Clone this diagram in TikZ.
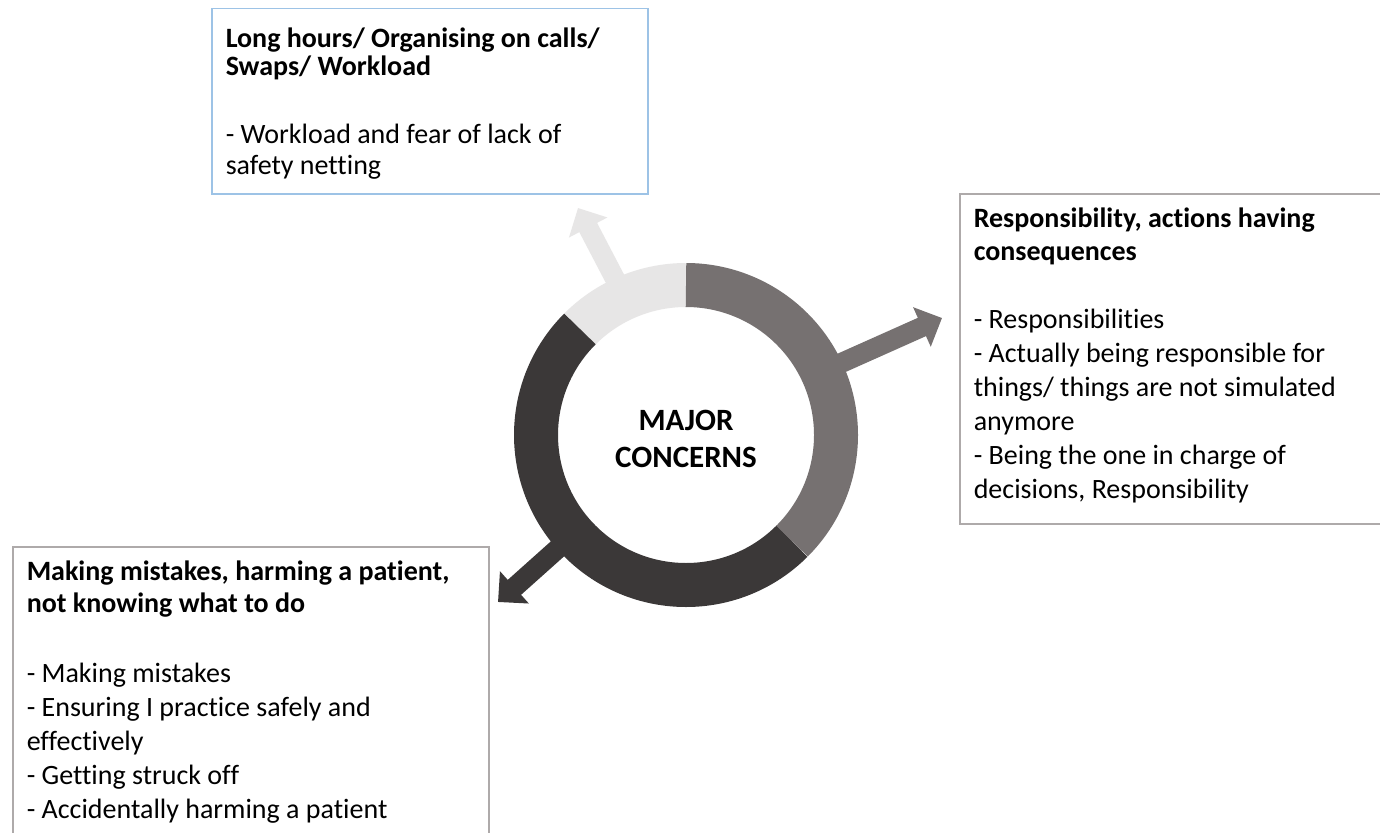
\documentclass[tikz,border=0pt]{standalone}
\usepackage{fontspec}
\setmainfont[Ligatures=NoCommon]{Carlito}
\usetikzlibrary{arrows.meta}

\definecolor{ringlight}{HTML}{E7E6E6}
\definecolor{ringmid}{HTML}{767171}
\definecolor{ringdark}{HTML}{3B3838}
\definecolor{boxblue}{HTML}{9DC3E6}
\definecolor{boxgray}{HTML}{AEAAAA}

\begin{document}
\begin{tikzpicture}[x=1pt,y=1pt,
   concern/.style={draw=boxgray, line width=1.5pt, anchor=north west, align=left, inner xsep=14pt, inner ysep=0pt, execute at begin node={\spaceskip=0pt\xspaceskip=0pt}},
   pointer/.style={line width=20pt, -{Triangle[length=22pt,width=42pt]}},
   segment/.style={line width=44pt}]

   \useasboundingbox [fill=white] (0,0) rectangle (1380,-832);

   \node (hub) at (686,-435) [circle, minimum size=344pt, inner sep=0pt] {};
   \node (MajorConcerns) at (686,-439) [align=center, font=\bfseries\fontsize{31}{37}\selectfont] {MAJOR\\CONCERNS};

   \node (LongHours) at (211,-8) [concern, draw=boxblue, text width=408pt, text height=39pt, text depth=146pt, font=\fontsize{28}{31}\selectfont] {\textbf{Long hours/ Organising on calls/}\\[-3.5pt]\textbf{Swaps/ Workload}\\[37pt]- Workload and fear of lack of\\safety netting};

   \node (Responsibility) at (959,-193) [concern, text width=408pt, text height=34pt, text depth=296pt, font=\fontsize{28}{34}\selectfont] {\textbf{Responsibility, actions having}\\[-1pt]\textbf{consequences}\\[34pt]- Responsibilities\\- Actually being responsible for\\things/ things are not simulated\\anymore\\- Being the one in charge of\\decisions, Responsibility};

   \node (Mistakes) at (12,-546) [concern, text width=448pt, text height=34pt, text depth=305pt, font=\fontsize{28}{34}\selectfont] {\textbf{Making mistakes, harming a patient,}\\[-2pt]\textbf{not knowing what to do}\\[36pt]- Making mistakes\\- Ensuring I practice safely and\\effectively\\- Getting struck off\\- Accidentally harming a patient};

   \coordinate (LongHoursTip) at (578,-208);
   \coordinate (ResponsibilityTip) at (942,-318);
   \coordinate (MistakesTip) at (498,-602);

   \draw [pointer, ringlight] ([shift={(114:150)}]hub.center) -- (LongHoursTip);
   \draw [pointer, ringmid] ([shift={(25:150)}]hub.center) -- (ResponsibilityTip);
   \draw [pointer, ringdark] ([shift={(221.5:150)}]hub.center) -- (MistakesTip);

   \draw [segment, ringlight] ([shift={(90:150)}]hub.center) arc [start angle=90, end angle=135, radius=150];
   \draw [segment, ringdark] ([shift={(135:150)}]hub.center) arc [start angle=135, end angle=315, radius=150];
   \draw [segment, ringmid] ([shift={(-45:150)}]hub.center) arc [start angle=-45, end angle=90, radius=150];

\end{tikzpicture}
\end{document}
